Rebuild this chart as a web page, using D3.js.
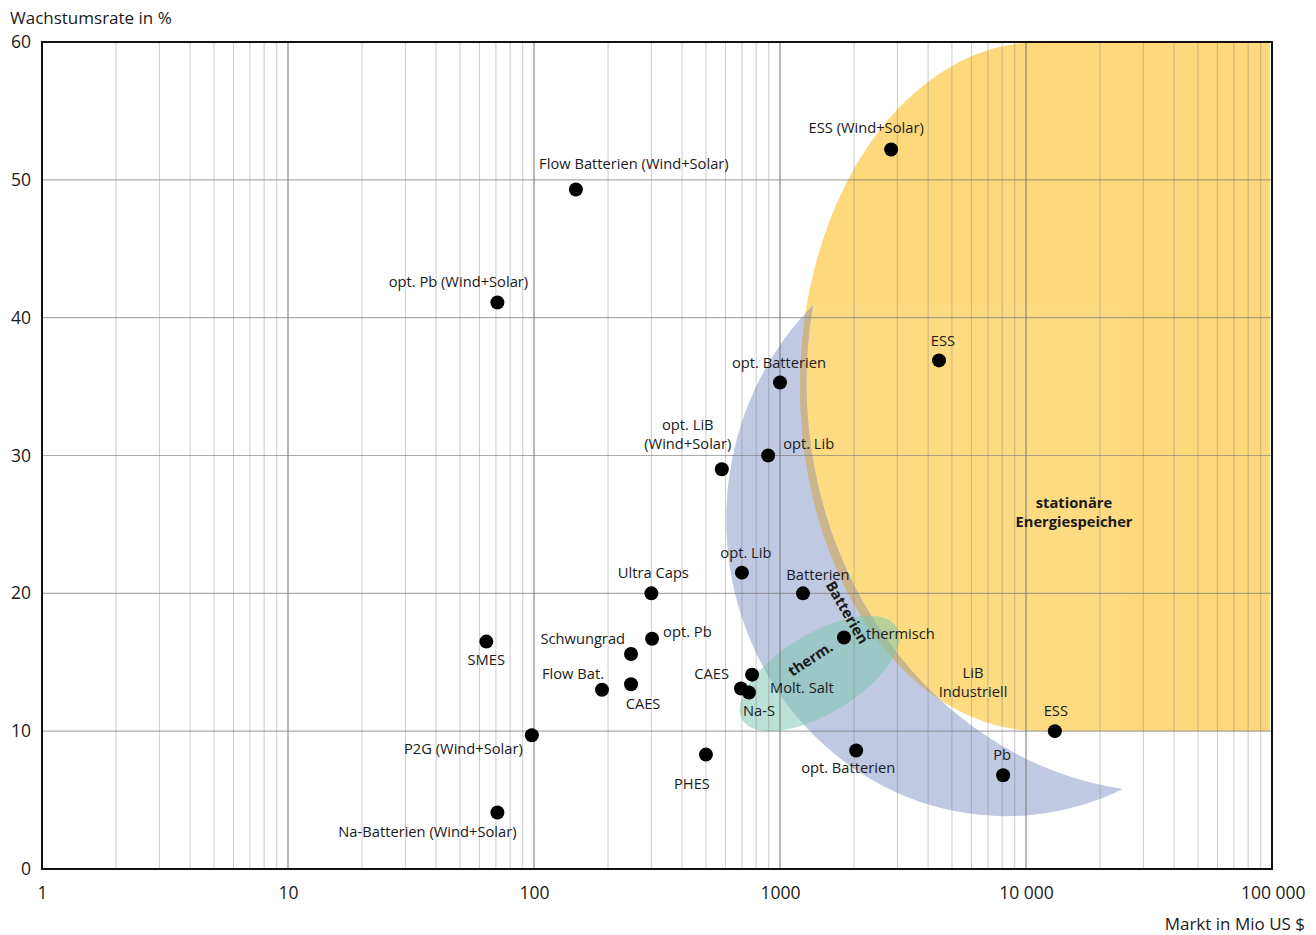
<!DOCTYPE html>
<html>
<head>
<meta charset="utf-8">
<script src="https://cdn.jsdelivr.net/npm/d3@7"></script>
<style>
  html, body { margin: 0; padding: 0; background: #fff; }
  svg { display: block; }
  text { font-family: "Open Sans", "Noto Sans", sans-serif; fill: #1a1a1a; }
</style>
</head>
<body>
<svg id="chart" width="1316" height="935"></svg>
<script>
// ---------- data ----------
const names = [
  "ESS (Wind+Solar)", "Flow Batterien (Wind+Solar)", "opt. Pb (Wind+Solar)", "ESS",
  "opt. Batterien", "opt. LiB|(Wind+Solar)", "opt. Lib", "opt. Lib", "Ultra Caps",
  "Batterien", "thermisch", "opt. Pb", "Schwungrad", "SMES", "Flow Bat.", "CAES",
  "CAES", "Molt. Salt", "Na-S", "P2G (Wind+Solar)", "PHES", "opt. Batterien", "Pb",
  "ESS", "Na-Batterien (Wind+Solar)"
];
const market = [
  2830, 148, 71, 4430,
  1000, 580, 895, 700, 300,
  1240, 1820, 302, 248, 64, 189, 248,
  770, 748, 694, 98, 500, 2040, 8070,
  13100, 71
];
const growth = [
  52.2, 49.3, 41.1, 36.9,
  35.3, 29.0, 30.0, 21.5, 20.0,
  20.0, 16.8, 16.7, 15.6, 16.5, 13.0, 13.4,
  14.1, 12.8, 13.1, 9.7, 8.3, 8.6, 6.8,
  10.0, 4.1
];
const xTickValues = [1, 10, 100, 1000, 10000, 100000];
const xTickLabels = ["1", "10", "100", "1000", "10 000", "100 000"];
const yTickValues = [0, 10, 20, 30, 40, 50, 60];
const yTickLabels = ["0", "10", "20", "30", "40", "50", "60"];

// ---------- label placement (layout only) ----------
const labelPlace = [
  [-25, -20, "middle"], [58, -24, "middle"], [-39, -19, "middle"], [4, -18, "middle"],
  [-1, -18, "middle"], [-34, -43, "middle"], [15, -10, "start"], [4, -19, "middle"], [2, -19, "middle"],
  [15, -17, "middle"], [22, -2, "start"], [11, -6, "start"], [-6, -14, "end"], [0, 19, "middle"],
  [2, -15, "end"], [12, 21, "middle"],
  [-23, 0, "end"], [21, -4, "start"], [18, 24, "middle"], [-9, 15, "end"], [-14, 30, "middle"],
  [-8, 19, "middle"], [-1, -19, "middle"],
  [1, -19, "middle"], [-70, 21, "middle"]
];

// ---------- layout ----------
const L = 42, R = 1272, T = 42, B = 869;
const svg = d3.select("#chart");
const x = d3.scaleLog().domain([1, 1e5]).range([L, R]);
const y = d3.scaleLinear().domain([0, 60]).range([B, T]);
const decPx = x(10) - x(1);
const pctPx = y(0) - y(1);

const defs = svg.append("defs");

// ---------- regions ----------
const yel = { cx: Math.pow(10, 4.057), top: 60, bottom: 10, rxDec: 0.976 };
function yellowPath() {
  const cx = x(yel.cx), t = y(yel.top), b = y(yel.bottom);
  const rx = yel.rxDec * decPx, ry = (b - t) / 2;
  return `M${cx},${t} L${R - 2},${t} L${R - 2},${b} L${cx},${b} A${rx},${ry} 0 0 1 ${cx},${t} Z`;
}
const cres = { a: [1362, 40.9], b: [24800, 5.8], outRx: 1.138, outRy: 21.5, inRx: 1.484, inRy: 29.75 };
function crescentPath() {
  const ax = x(cres.a[0]), ay = y(cres.a[1]), bx = x(cres.b[0]), by = y(cres.b[1]);
  return `M${ax},${ay} A${cres.outRx * decPx},${cres.outRy * pctPx} 0 0 0 ${bx},${by} ` +
         `A${cres.inRx * decPx},${cres.inRy * pctPx} 0 0 1 ${ax},${ay} Z`;
}
const therm = { c: [1448, 14.18], rx: 90, ry: 40, rot: -31 };

defs.append("clipPath").attr("id", "yclip").append("path").attr("d", yellowPath());

const regions = svg.append("g");
regions.append("path").attr("d", yellowPath()).attr("fill", "#fdd97c");
regions.append("rect")
  .attr("x", x(300)).attr("y", y(41)).attr("width", x(24500) - x(300)).attr("height", y(10) - y(41))
  .attr("fill", "#fff").attr("opacity", 0.06).attr("clip-path", "url(#yclip)");
regions.append("path").attr("d", crescentPath()).attr("fill", "#c0c9e2");
regions.append("path").attr("d", crescentPath()).attr("fill", "#cab58c").attr("clip-path", "url(#yclip)");
regions.append("ellipse")
  .attr("cx", 0).attr("cy", 0).attr("rx", therm.rx).attr("ry", therm.ry)
  .attr("transform", `translate(${x(therm.c[0])},${y(therm.c[1])}) rotate(${therm.rot})`)
  .attr("fill", "rgb(120,197,175)").attr("opacity", 0.52);

// ---------- grid ----------
const grid = svg.append("g");
const minorTicks = x.ticks().filter(v => xTickValues.indexOf(v) < 0);
grid.selectAll("line.minor").data(minorTicks).join("line")
  .attr("x1", d => x(d)).attr("x2", d => x(d)).attr("y1", T).attr("y2", B)
  .attr("stroke", "#777").attr("stroke-opacity", 0.38).attr("stroke-width", 1);
grid.selectAll("line.major").data(xTickValues.slice(1, -1)).join("line")
  .attr("x1", d => x(d)).attr("x2", d => x(d)).attr("y1", T).attr("y2", B)
  .attr("stroke", "#777").attr("stroke-opacity", 0.7).attr("stroke-width", 1.5);
grid.selectAll("line.h").data(yTickValues.slice(1, -1)).join("line")
  .attr("x1", L).attr("x2", R).attr("y1", d => y(d)).attr("y2", d => y(d))
  .attr("stroke", "#777").attr("stroke-opacity", 0.62).attr("stroke-width", 1.2);

svg.append("rect").attr("x", L).attr("y", T).attr("width", R - L).attr("height", B - T)
  .attr("fill", "none").attr("stroke", "#111").attr("stroke-width", 2);

// ---------- axes ----------
const xAxis = d3.axisBottom(x).tickValues(xTickValues).tickFormat((d, i) => xTickLabels[i]).tickSize(0).tickPadding(0);
const gx = svg.append("g").attr("transform", `translate(0,${B})`).call(xAxis);
gx.select(".domain").remove();
gx.selectAll("text").attr("y", 24).attr("dy", "0.32em")
  .style("font-family", '"Open Sans", sans-serif').style("font-size", "17.5px").attr("fill", "#1a1a1a");
gx.selectAll("text").filter((d, i) => i === xTickValues.length - 1).attr("text-anchor", "end").attr("dx", 33);

const yAxis = d3.axisLeft(y).tickValues(yTickValues).tickFormat((d, i) => yTickLabels[i]).tickSize(0).tickPadding(11);
const gy = svg.append("g").attr("transform", `translate(${L},0)`).call(yAxis);
gy.select(".domain").remove();
gy.selectAll("text").style("font-family", '"Open Sans", sans-serif').style("font-size", "17.5px").attr("fill", "#1a1a1a");

svg.append("text").attr("x", 10).attr("y", 24).style("font-size", "17px").text("Wachstumsrate in %");
svg.append("text").attr("x", 1305).attr("y", 930).attr("text-anchor", "end").style("font-size", "17px").text("Markt in Mio US $");

// ---------- region labels ----------
const rl = svg.append("g").style("font-size", "14.7px");
rl.append("text").attr("x", 1074).attr("y", 508).attr("text-anchor", "middle").style("font-weight", "bold").text("stationäre");
rl.append("text").attr("x", 1074).attr("y", 527).attr("text-anchor", "middle").style("font-weight", "bold").text("Energiespeicher");
rl.append("text").attr("x", 973).attr("y", 678).attr("text-anchor", "middle").text("LiB");
rl.append("text").attr("x", 973).attr("y", 697).attr("text-anchor", "middle").text("Industriell");
rl.append("text").attr("text-anchor", "middle").attr("dominant-baseline", "middle")
  .attr("transform", "translate(846,613) rotate(60)").style("font-weight", "bold").text("Batterien");
rl.append("text").attr("text-anchor", "middle").attr("dominant-baseline", "middle")
  .attr("transform", "translate(811,660) rotate(-33)").style("font-weight", "bold").text("therm.");

// ---------- points ----------
const pts = names.map((n, i) => ({ name: n, m: market[i], g: growth[i], p: labelPlace[i] }));
svg.append("g").selectAll("circle").data(pts).join("circle")
  .attr("cx", d => x(d.m)).attr("cy", d => y(d.g)).attr("r", 7).attr("fill", "#000");

const lab = svg.append("g").style("font-size", "14.7px");
pts.forEach(d => {
  d.name.split("|").forEach((ln, k) => {
    lab.append("text")
      .attr("x", x(d.m) + d.p[0]).attr("y", y(d.g) + d.p[1] + k * 19)
      .attr("dominant-baseline", "middle").attr("text-anchor", d.p[2]).text(ln);
  });
});
</script>
</body>
</html>
